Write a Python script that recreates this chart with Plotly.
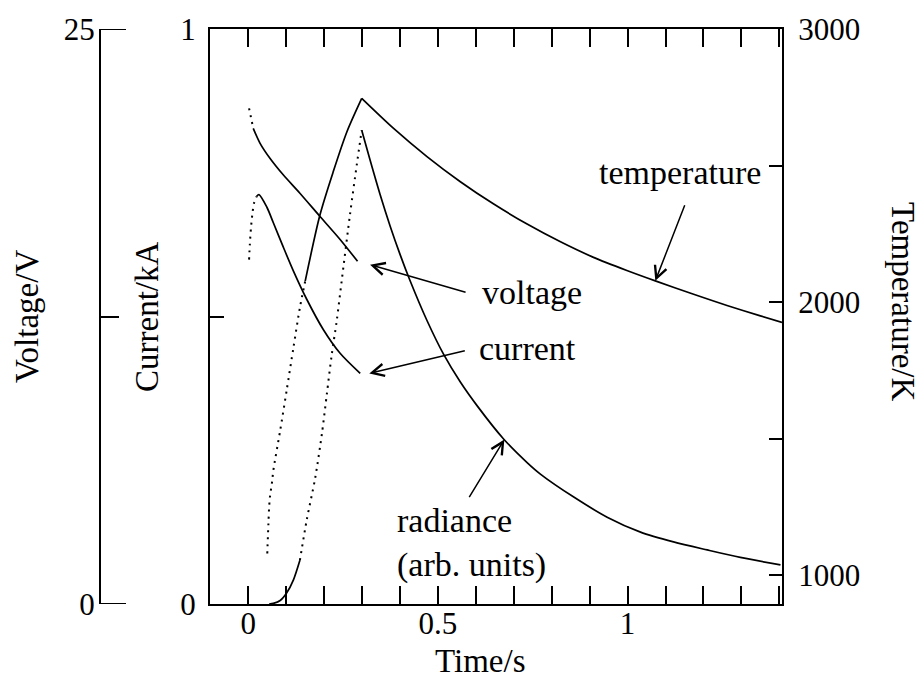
import plotly.graph_objects as go

# ---------------- data ----------------
# voltage (V) vs time (s)
t_voltage = [0.002, 0.013, 0.031, 0.057, 0.092, 0.136, 0.189, 0.242, 0.288]
voltage = [21.55, 20.68, 20.03, 19.38, 18.66, 17.86, 16.85, 15.85, 14.90]

# current (kA) vs time (s)
t_current = [0.002, 0.004, 0.007, 0.011, 0.015, 0.022, 0.028, 0.049, 0.066,
             0.092, 0.119, 0.154, 0.198, 0.242, 0.295]
current = [0.599, 0.625, 0.654, 0.680, 0.697, 0.709, 0.712, 0.690, 0.663,
           0.621, 0.579, 0.530, 0.477, 0.436, 0.401]

# temperature (K): heating phase and cooling phase
t_temp_rise = [0.050, 0.053, 0.055, 0.057, 0.063, 0.066, 0.084, 0.101, 0.119,
               0.136, 0.150, 0.189, 0.224, 0.260, 0.299]
temp_rise = [1080, 1189, 1252, 1286, 1347, 1384, 1530, 1676, 1834,
             1980, 2077, 2320, 2478, 2624, 2746]
t_temp_decay = [0.299, 0.383, 0.471, 0.559, 0.646, 0.735, 0.823, 0.910, 0.998,
                1.073, 1.174, 1.262, 1.350, 1.407]
temp_decay = [2746, 2636, 2533, 2441, 2360, 2286, 2221, 2164, 2116,
              2078, 2029, 1988, 1950, 1926]

# radiance (arb. units): rise and decay
t_rad_rise = [0.055, 0.066, 0.084, 0.101, 0.119, 0.136, 0.154, 0.176, 0.194,
              0.207, 0.220, 0.233, 0.246, 0.268, 0.286, 0.299]
rad_rise = [0.000, 0.001, 0.006, 0.019, 0.042, 0.076, 0.146, 0.218, 0.296,
            0.365, 0.434, 0.492, 0.561, 0.677, 0.764, 0.824]
t_rad_decay = [0.299, 0.321, 0.347, 0.374, 0.400, 0.426, 0.471, 0.515, 0.559,
               0.603, 0.673, 0.735, 0.770, 0.858, 0.946, 1.034, 1.121, 1.210,
               1.297, 1.403]
rad_decay = [0.824, 0.772, 0.713, 0.657, 0.608, 0.563, 0.493, 0.434, 0.386,
             0.345, 0.287, 0.246, 0.226, 0.186, 0.151, 0.125, 0.108, 0.094,
             0.081, 0.068]

x_ticks = [0, 0.5, 1]
x_tick_labels = ["0", "0.5", "1"]
cur_ticks = [0, 0.5, 1]
cur_tick_labels = ["0", "", "1"]
volt_ticks = [0, 25]
volt_tick_labels = ["0", "25"]
temp_ticks = [1000, 1500, 2000, 2500, 3000]
temp_tick_labels = ["1000", "", "2000", "", "3000"]

# ---------------- figure ----------------
FONT = "Liberation Serif, Times New Roman, serif"
BLACK = "#000000"
solid = dict(color=BLACK, width=1.7, shape="spline", smoothing=0.8)
dotted = dict(color=BLACK, width=2, dash="2px,5px", shape="spline",
              smoothing=0.8)

fig = go.Figure()


def add(xs, ys, line, axis):
    fig.add_trace(go.Scatter(x=xs, y=ys, mode="lines", line=line,
                             yaxis=axis, hoverinfo="skip"))


# voltage (dotted very first part)
add(t_voltage[:2], voltage[:2], dotted, "y2")
add(t_voltage[1:], voltage[1:], solid, "y2")
# current
add(t_current[:6], current[:6], dotted, "y")
add(t_current[5:], current[5:], solid, "y")
# temperature
add(t_temp_rise[:11], temp_rise[:11], dotted, "y3")
add(t_temp_rise[10:], temp_rise[10:], solid, "y3")
add(t_temp_decay, temp_decay, solid, "y3")
# radiance
add(t_rad_rise[:6], rad_rise[:6], solid, "y")
add(t_rad_rise[5:], rad_rise[5:], dotted, "y")
add(t_rad_decay, rad_decay, solid, "y")

tickfont = dict(family=FONT, size=31, color=BLACK)

fig.update_layout(
    width=923, height=683,
    margin=dict(l=100, r=141, t=27, b=79, pad=0),
    paper_bgcolor="white", plot_bgcolor="white",
    showlegend=False,
    font=dict(family=FONT, size=31, color=BLACK),
    xaxis=dict(
        domain=[110 / 682, 1], range=[-0.101, 1.407],
        tickmode="array", tickvals=x_ticks, ticktext=x_tick_labels,
        ticks="inside", ticklen=18, tickwidth=2, tickcolor=BLACK,
        minor=dict(dtick=0.1, tick0=0, ticks="inside", ticklen=13,
                   tickwidth=2, tickcolor=BLACK),
        showline=True, linewidth=2, linecolor=BLACK, mirror="allticks",
        showgrid=False, zeroline=False, tickfont=tickfont,
        ticklabelstandoff=-9,
    ),
    yaxis=dict(
        range=[0, 1], tickmode="array", tickvals=cur_ticks,
        ticktext=cur_tick_labels, ticks="inside", ticklen=14, tickwidth=2,
        tickcolor=BLACK, showline=True, linewidth=2, linecolor=BLACK,
        showgrid=False, zeroline=False, tickfont=tickfont,
        ticklabelstandoff=6,
    ),
    yaxis2=dict(
        range=[0, 25], overlaying="y", anchor="free", position=0, side="left",
        tickmode="array", tickvals=volt_ticks, ticktext=volt_tick_labels,
        ticks="inside", ticklen=26, tickwidth=2, tickcolor=BLACK,
        minor=dict(tickvals=[12.5], ticks="inside", ticklen=18, tickwidth=2,
                   tickcolor=BLACK),
        showline=True, linewidth=2, linecolor=BLACK,
        showgrid=False, zeroline=False, tickfont=tickfont,
        ticklabelstandoff=-2,
    ),
    yaxis3=dict(
        range=[895, 3000], overlaying="y", anchor="x", side="right",
        tickmode="array", tickvals=temp_ticks, ticktext=temp_tick_labels,
        ticks="inside", ticklen=13, tickwidth=2, tickcolor=BLACK,
        showline=True, linewidth=2, linecolor=BLACK,
        showgrid=False, zeroline=False, tickfont=tickfont,
        ticklabelstandoff=8,
    ),
)

# end ticks of the voltage axis (pointing inwards, to the right)
fig.update_layout(shapes=[
    dict(type="line", xref="paper", yref="y2", x0=0, x1=26 / 682,
         y0=v, y1=v, line=dict(color=BLACK, width=2))
    for v in volt_ticks
])

labfont = dict(family=FONT, size=34, color=BLACK)
titlefont = dict(family=FONT, size=33, color=BLACK)

ann = []
# axis titles
ann.append(dict(text="Time/s", xref="x", yref="paper", x=0.611,
                y=(604 - 661) / 577, xanchor="center", yanchor="middle",
                showarrow=False, font=titlefont))
ann.append(dict(text="Voltage/V", xref="paper", yref="paper",
                x=(27 - 100) / 682, y=(604 - 316) / 577, textangle=-90,
                xanchor="center", yanchor="middle", showarrow=False,
                font=titlefont))
ann.append(dict(text="Current/kA", xref="paper", yref="paper",
                x=(147 - 100) / 682, y=(604 - 316) / 577, textangle=-90,
                xanchor="center", yanchor="middle", showarrow=False,
                font=titlefont))
ann.append(dict(text="Temperature/K", xref="paper", yref="paper",
                x=(903 - 100) / 682, y=(604 - 300) / 577, textangle=90,
                xanchor="center", yanchor="middle", showarrow=False,
                font=titlefont))

# curve labels
ann.append(dict(text="temperature", x=1.139, y=0.750, xref="x", yref="y",
                showarrow=False, font=labfont))
ann.append(dict(text="voltage", x=0.747, y=0.542, xref="x", yref="y",
                showarrow=False, font=labfont))
ann.append(dict(text="current", x=0.737, y=0.444, xref="x", yref="y",
                showarrow=False, font=labfont))
ann.append(dict(text="radiance<br>(arb. units)", x=0.387, y=0.106,
                xref="x", yref="y", xanchor="left", align="left",
                showarrow=False, font=labfont))

# arrows
arrow = dict(showarrow=True, arrowhead=5, arrowsize=1.6, arrowwidth=1.5,
             arrowcolor=BLACK, text="", standoff=0, axref="pixel",
             ayref="pixel")
ann.append(dict(arrow, x=1.073, y=2078, xref="x", yref="y3", ax=30, ay=-77))
ann.append(dict(arrow, x=0.321, y=0.590, xref="x", yref="y", ax=97, ay=28))
ann.append(dict(arrow, x=0.319, y=0.401, xref="x", yref="y", ax=97, ay=-23))
ann.append(dict(arrow, x=0.675, y=0.286, xref="x", yref="y", ax=-36, ay=59))

fig.update_layout(annotations=ann)

fig.write_html("out.html")
